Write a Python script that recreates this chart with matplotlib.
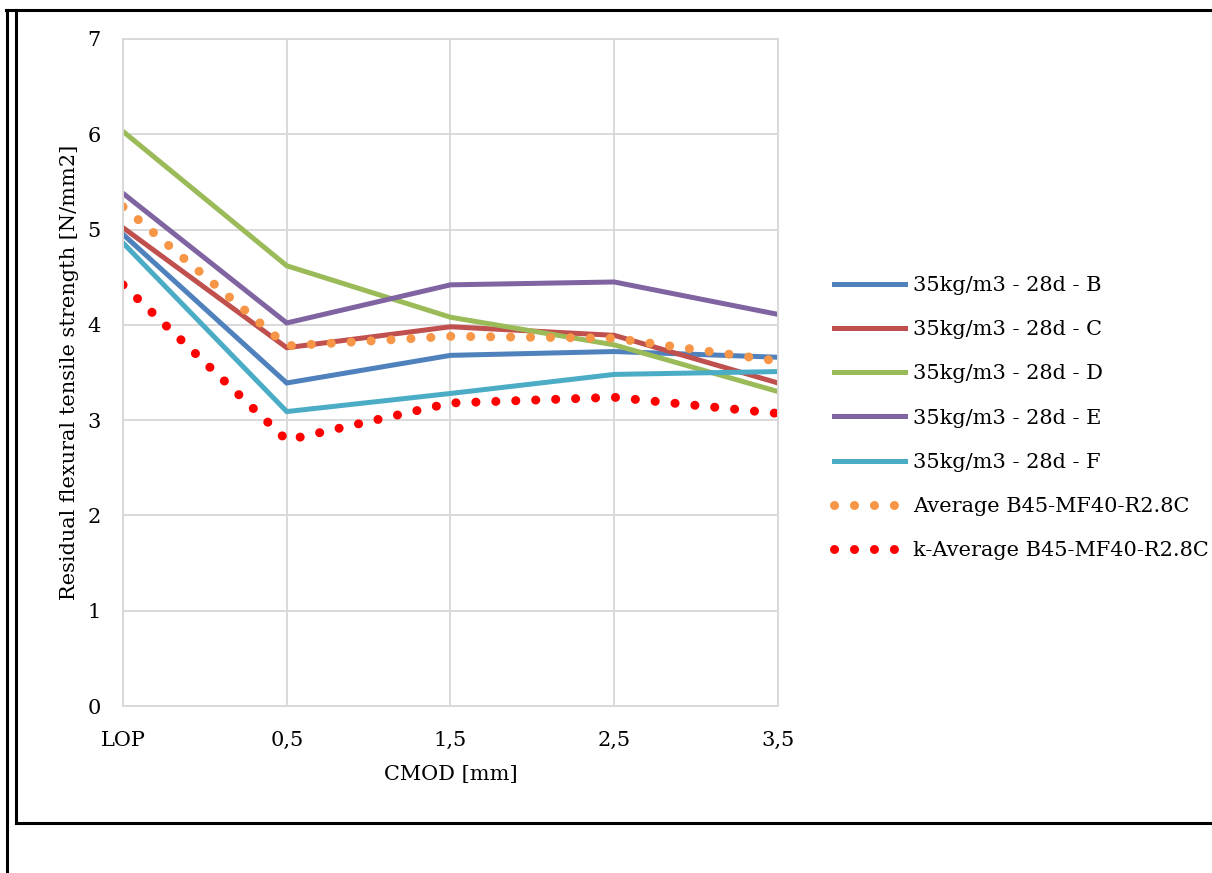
#!/usr/bin/env python3
import matplotlib
matplotlib.use("Agg")
import matplotlib.pyplot as plt
from matplotlib.lines import Line2D

plt.rcParams['font.family'] = ['DejaVu Serif']

cmod = ['LOP', '0,5', '1,5', '2,5', '3,5']
series_names = ['35kg/m3 - 28d - B', '35kg/m3 - 28d - C', '35kg/m3 - 28d - D',
                '35kg/m3 - 28d - E', '35kg/m3 - 28d - F']
b_vals = [4.95, 3.39, 3.68, 3.72, 3.66]
c_vals = [5.02, 3.76, 3.98, 3.89, 3.39]
d_vals = [6.03, 4.62, 4.08, 3.79, 3.30]
e_vals = [5.38, 4.02, 4.42, 4.45, 4.11]
f_vals = [4.86, 3.09, 3.28, 3.48, 3.51]
avg_name = 'Average B45-MF40-R2.8C'
avg_vals = [5.24, 3.78, 3.88, 3.86, 3.62]
kavg_name = 'k-Average B45-MF40-R2.8C'
kavg_vals = [4.42, 2.79, 3.18, 3.24, 3.07]

colors = ['#4f81bd', '#c0504d', '#9bbb59', '#8064a2', '#4bacc6']

W, H = 1212, 873
fs = 15
fig = plt.figure(figsize=(W / 100, H / 100), dpi=100)
ax = fig.add_axes([123 / W, 1 - 706 / H, 655 / W, 667 / H])

for name, vals, col in zip(series_names, [b_vals, c_vals, d_vals, e_vals, f_vals], colors):
    ax.plot(cmod, vals, color=col, lw=3.6, label=name, solid_joinstyle='miter')
ax.plot(cmod, avg_vals, color='#f79646', lw=6.5, linestyle=(0, (0.01, 2.2)),
        dash_capstyle='round', label=avg_name)
ax.plot(cmod, kavg_vals, color='#ff0000', lw=6.5, linestyle=(0, (0.01, 2.2)),
        dash_capstyle='round', label=kavg_name)

ax.set_xlim(0, 4)
ax.set_ylim(0, 7)
ax.set_yticks(range(0, 8))
ax.grid(True, color='#d9d9d9', lw=1.4)
ax.set_axisbelow(True)
for s in ax.spines.values():
    s.set_color('#d9d9d9')
    s.set_linewidth(1.4)
ax.tick_params(length=0, labelsize=fs)
ax.tick_params(axis='y', pad=16)
ax.tick_params(axis='x', pad=18)
ax.set_xlabel('CMOD [mm]', fontsize=fs, labelpad=11)
ax.set_ylabel('Residual flexural tensile strength [N/mm2]', fontsize=fs, labelpad=6)

fig.legend(loc='upper left', bbox_to_anchor=(834 / W, 1 - 276 / H), frameon=False,
           fontsize=fs, handlelength=3.4, handletextpad=0.38, labelspacing=1.21,
           borderpad=0, borderaxespad=0)

# frame around the chart
fig.add_artist(Line2D([16 / W, 1], [1 - 10 / H, 1 - 10 / H], color='black', lw=2.2))
fig.add_artist(Line2D([16 / W, 1], [1 - 823 / H, 1 - 823 / H], color='black', lw=2.2))
fig.add_artist(Line2D([16 / W, 16 / W], [1 - 10 / H, 1 - 823 / H], color='black', lw=2.2))
fig.add_artist(Line2D([7 / W, 7 / W], [1 - 10 / H, 0], color='black', lw=2.2))
fig.add_artist(Line2D([6 / W, 16 / W], [1 - 10 / H, 1 - 10 / H], color='black', lw=2.2))

fig.savefig('out.png', dpi=100)
